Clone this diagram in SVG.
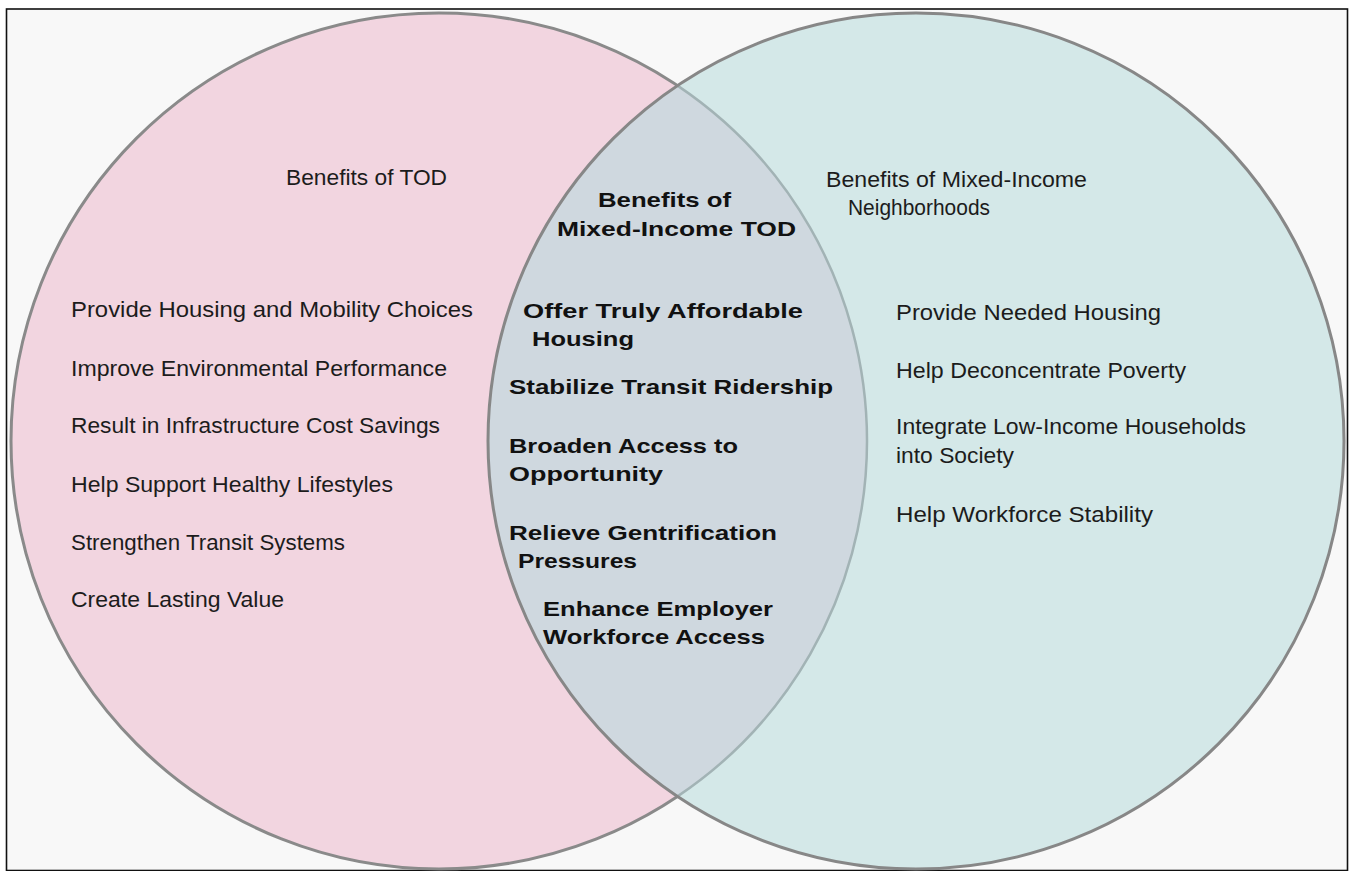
<svg xmlns="http://www.w3.org/2000/svg" width="1351" height="871" viewBox="0 0 1351 871">
<style>
.reg{font-family:"Liberation Sans",Arial,sans-serif;font-size:21.5px;fill:#1c1c1c}
.bold{font-family:"Liberation Sans",Arial,sans-serif;font-size:21px;font-weight:bold;fill:#111}
</style>
<rect x="0" y="0" width="1351" height="871" fill="#ffffff"/>
<rect x="6.5" y="9" width="1341" height="861.5" fill="#f8f8f8" stroke="#111" stroke-width="1.6"/>
<g id="circle-tod">
<circle cx="439" cy="441" r="428" fill="#f2d5e0" stroke="#8a8a8a" stroke-width="3"/>
</g>
<g id="circle-mixed-income">
<circle cx="916" cy="441" r="428" fill="#d4e8e8"/>
</g>
<g id="overlap">
<path d="M677.5 85.6 A428 428 0 0 1 677.5 796.4 A428 428 0 0 1 677.5 85.6 Z" fill="#cfd8df"/>
<path d="M677.5 85.6 A428 428 0 0 1 677.5 796.4" fill="none" stroke="#a2b3b5" stroke-width="2.5"/>
</g>
<g id="circle-mixed-income-outline">
<circle cx="916" cy="441" r="428" fill="none" stroke="#878787" stroke-width="3"/>
</g>
<g id="tod-texts">
<text class="reg" x="286" y="185" textLength="161" lengthAdjust="spacingAndGlyphs">Benefits of TOD</text>
<text class="reg" x="71" y="317" textLength="402" lengthAdjust="spacingAndGlyphs">Provide Housing and Mobility Choices</text>
<text class="reg" x="71" y="376" textLength="376" lengthAdjust="spacingAndGlyphs">Improve Environmental Performance</text>
<text class="reg" x="71" y="433" textLength="369" lengthAdjust="spacingAndGlyphs">Result in Infrastructure Cost Savings</text>
<text class="reg" x="71" y="492" textLength="322" lengthAdjust="spacingAndGlyphs">Help Support Healthy Lifestyles</text>
<text class="reg" x="71" y="550" textLength="274" lengthAdjust="spacingAndGlyphs">Strengthen Transit Systems</text>
<text class="reg" x="71" y="607" textLength="213" lengthAdjust="spacingAndGlyphs">Create Lasting Value</text>
</g>
<g id="mixed-texts">
<text class="reg" x="826" y="187" textLength="261" lengthAdjust="spacingAndGlyphs">Benefits of Mixed-Income</text>
<text class="reg" x="848" y="215" textLength="142" lengthAdjust="spacingAndGlyphs">Neighborhoods</text>
<text class="reg" x="896" y="320" textLength="265" lengthAdjust="spacingAndGlyphs">Provide Needed Housing</text>
<text class="reg" x="896" y="378" textLength="290" lengthAdjust="spacingAndGlyphs">Help Deconcentrate Poverty</text>
<text class="reg" x="896" y="434" textLength="350" lengthAdjust="spacingAndGlyphs">Integrate Low-Income Households</text>
<text class="reg" x="896" y="463" textLength="118" lengthAdjust="spacingAndGlyphs">into Society</text>
<text class="reg" x="896" y="522" textLength="257" lengthAdjust="spacingAndGlyphs">Help Workforce Stability</text>
</g>
<g id="overlap-texts">
<text class="bold" x="598" y="207" textLength="133" lengthAdjust="spacingAndGlyphs">Benefits of</text>
<text class="bold" x="557" y="236" textLength="239" lengthAdjust="spacingAndGlyphs">Mixed-Income TOD</text>
<text class="bold" x="523" y="318" textLength="280" lengthAdjust="spacingAndGlyphs">Offer Truly Affordable</text>
<text class="bold" x="532" y="346" textLength="102" lengthAdjust="spacingAndGlyphs">Housing</text>
<text class="bold" x="509" y="394" textLength="324" lengthAdjust="spacingAndGlyphs">Stabilize Transit Ridership</text>
<text class="bold" x="509" y="453" textLength="229" lengthAdjust="spacingAndGlyphs">Broaden Access to</text>
<text class="bold" x="509" y="481" textLength="154" lengthAdjust="spacingAndGlyphs">Opportunity</text>
<text class="bold" x="509" y="540" textLength="268" lengthAdjust="spacingAndGlyphs">Relieve Gentrification</text>
<text class="bold" x="518" y="568" textLength="119" lengthAdjust="spacingAndGlyphs">Pressures</text>
<text class="bold" x="543" y="616" textLength="230" lengthAdjust="spacingAndGlyphs">Enhance Employer</text>
<text class="bold" x="543" y="644" textLength="222" lengthAdjust="spacingAndGlyphs">Workforce Access</text>
</g>
</svg>
